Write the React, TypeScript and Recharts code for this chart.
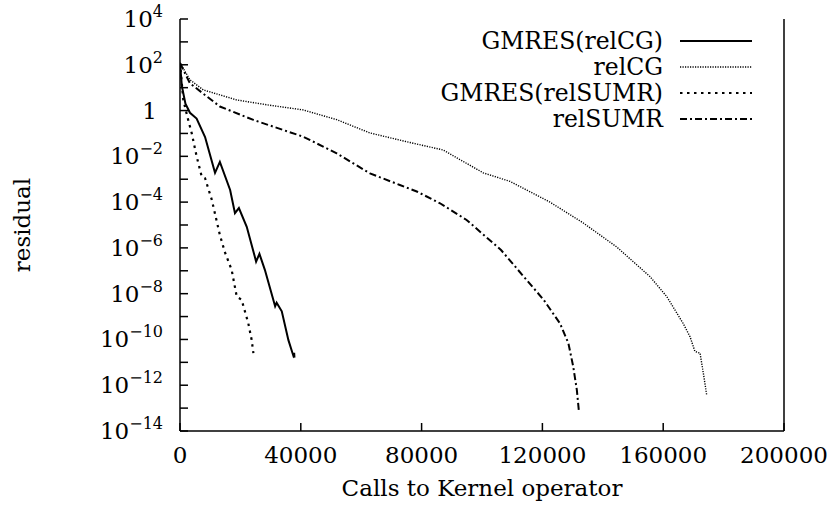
import { LineChart, Line, XAxis, YAxis, Legend, Label } from "recharts"

const FONT = "'DejaVu Serif', 'Liberation Serif', 'Noto Serif', serif"

// kernel operator calls and the residual reached, one pair per solver
const gmresRelCgCalls = [0, 600, 1800, 3300, 5500, 8300, 11600, 13200, 16600, 18200, 19500, 22100, 24800, 25200, 26300, 28100, 31500, 32000, 33700, 35900, 37500, 37800, 37900]
const gmresRelCgResidual = [120, 12, 2.0, 0.8, 0.45, 0.07, 1.9e-3, 5.7e-3, 3.4e-4, 3.3e-5, 5.5e-5, 8.3e-6, 4e-7, 2.5e-7, 5.5e-7, 1.1e-7, 2.8e-9, 4e-9, 1.7e-9, 9.3e-11, 2e-11, 2.6e-11, 1.6e-11]

const relCgCalls = [0, 3300, 7700, 18800, 29800, 40700, 51900, 62900, 76200, 87100, 100400, 109300, 122500, 133400, 144600, 155600, 161200, 166600, 168900, 170500, 172200, 173300, 174400]
const relCgResidual = [120, 22, 8, 2.9, 1.7, 1.07, 0.4, 0.105, 0.04, 0.019, 1.9e-3, 8e-4, 1e-4, 1.26e-5, 1.1e-6, 5.6e-8, 7.4e-9, 5e-10, 1.3e-10, 3e-11, 2.5e-11, 3.3e-12, 3.8e-13]

const gmresRelSumrCalls = [0, 1100, 2500, 3900, 5500, 7200, 8300, 10500, 13200, 14900, 17100, 18800, 20400, 22600, 23700, 24300]
const gmresRelSumrResidual = [120, 2.9, 0.5, 0.1, 0.01, 1.3e-3, 1.1e-3, 1.3e-4, 3.7e-6, 6.3e-7, 1.1e-7, 7.4e-9, 5.4e-9, 5.2e-10, 1e-10, 2.5e-11]

const relSumrCalls = [0, 3300, 13200, 24300, 40800, 51900, 62900, 72800, 78400, 86100, 94900, 106300, 113800, 120400, 125800, 128600, 130200, 131400, 132100]
const relSumrResidual = [120, 15.5, 1.5, 0.39, 0.072, 0.0135, 1.8e-3, 5.6e-4, 2.9e-4, 8.9e-5, 1.66e-5, 8.1e-7, 5.6e-8, 5.4e-9, 5.1e-10, 6.9e-11, 6.6e-12, 6.3e-13, 7e-14]

const xTicks = [0, 40000, 80000, 120000, 160000, 200000]
const yExponents = [-14, -13, -12, -11, -10, -9, -8, -7, -6, -5, -4, -3, -2, -1, 0, 1, 2, 3, 4]
const yTicks = yExponents.map(e => Number(`1e${e}`))

const toPoints = (calls: number[], residual: number[]) =>
  calls.map((c, i) => ({ calls: c, residual: residual[i] }))

const series = [
  { name: "GMRES(relCG)", data: toPoints(gmresRelCgCalls, gmresRelCgResidual), dash: undefined, width: 2 },
  { name: "relCG", data: toPoints(relCgCalls, relCgResidual), dash: "1.2 1.3", width: 1.4 },
  { name: "GMRES(relSUMR)", data: toPoints(gmresRelSumrCalls, gmresRelSumrResidual), dash: "2.5 4.5", width: 2.2 },
  { name: "relSUMR", data: toPoints(relSumrCalls, relSumrResidual), dash: "7 3 2 3", width: 2 },
]

function ResidualTick({ x, y, payload }: any) {
  const exp = Math.round(Math.log10(payload.value))
  if (exp % 2 !== 0) return <g />
  if (exp === 0) {
    return (
      <text x={x - 6} y={y} dy="0.35em" textAnchor="end" style={{ fontFamily: FONT }} fontSize={23} fill="#000">1</text>
    )
  }
  return (
    <text x={x} y={y} dy="0.35em" textAnchor="end" style={{ fontFamily: FONT }} fontSize={23} fill="#000">
      10
      <tspan dy={-10} fontSize={16}>{exp < 0 ? `\u2212${-exp}` : exp}</tspan>
    </text>
  )
}

function CallsTick({ x, y, payload }: any) {
  return (
    <text x={x} y={y} dy="0.71em" textAnchor="middle" style={{ fontFamily: FONT }} fontSize={23} fill="#000">
      {payload.value}
    </text>
  )
}

function SolverLegend() {
  return (
    <div style={{ fontFamily: FONT, fontSize: 23.5, color: "#000" }}>
      {series.map(s => (
        <div key={s.name} style={{ height: 26, lineHeight: "26px", display: "flex", alignItems: "center", justifyContent: "flex-end" }}>
          <span>{s.name}</span>
          <svg width={72} height={10} style={{ marginLeft: 17 }}>
            <line x1={0} y1={5} x2={72} y2={5} stroke="#000" strokeWidth={s.width} strokeDasharray={s.dash} />
          </svg>
        </div>
      ))}
    </div>
  )
}

export default function App() {
  return (
    <div style={{ position: "absolute", left: 0, top: 0, background: "#fff", fontFamily: FONT }}>
      <LineChart width={832} height={508} margin={{ top: 19, right: 0, bottom: 0, left: 0 }}>
        <XAxis
          dataKey="calls"
          type="number"
          domain={[0, 200000]}
          ticks={xTicks}
          height={77}
          tickSize={-8}
          tickMargin={24}
          stroke="#000"
          strokeWidth={1.5}
          tick={<CallsTick />}
          interval={0}
          allowDataOverflow
        >
          <Label
            content={({ viewBox }: any) => (
              <text
                x={482}
                y={viewBox.y + viewBox.height - 12}
                textAnchor="middle"
                style={{ fontFamily: FONT }}
                fontSize={23}
                fill="#000"
              >
                Calls to Kernel operator
              </text>
            )}
          />
        </XAxis>
        <XAxis
          xAxisId="top"
          orientation="top"
          type="number"
          domain={[0, 200000]}
          ticks={xTicks}
          height={0}
          tickSize={-8}
          tick={false}
          stroke="#000"
          strokeWidth={1.5}
        />
        <YAxis
          dataKey="residual"
          scale="log"
          type="number"
          domain={[1e-14, 1e4]}
          ticks={yTicks}
          width={180}
          tickSize={-8}
          tickMargin={25}
          stroke="#000"
          strokeWidth={1.5}
          tick={<ResidualTick />}
          interval={0}
          allowDataOverflow
        >
          <Label
            content={({ viewBox }: any) => (
              <text
                x={22}
                y={viewBox.y + viewBox.height / 2}
                transform={`rotate(-90 22 ${viewBox.y + viewBox.height / 2})`}
                textAnchor="middle"
                dy="0.35em"
                style={{ fontFamily: FONT }}
                fontSize={23}
                fill="#000"
              >
                residual
              </text>
            )}
          />
        </YAxis>
        <YAxis
          yAxisId="right"
          orientation="right"
          scale="log"
          type="number"
          domain={[1e-14, 1e4]}
          ticks={yTicks}
          width={48}
          tickSize={-8}
          tick={false}
          interval={0}
          stroke="#000"
          strokeWidth={1.5}
          allowDataOverflow
        />
        <Legend
          layout="vertical"
          align="center"
          verticalAlign="middle"
          content={<SolverLegend />}
          wrapperStyle={{ left: 400, top: 28, width: 352 }}
        />
        {series.map(s => (
          <Line
            key={s.name}
            name={s.name}
            data={s.data}
            dataKey="residual"
            type="linear"
            stroke="#000"
            strokeWidth={s.width}
            strokeDasharray={s.dash}
            dot={false}
            activeDot={false}
            isAnimationActive={false}
          />
        ))}
      </LineChart>
    </div>
  )
}
